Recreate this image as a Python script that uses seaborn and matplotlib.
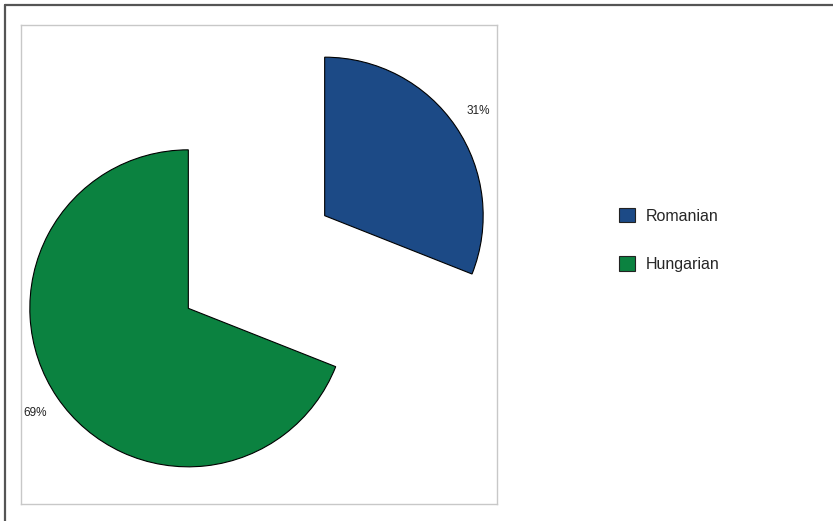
import matplotlib
matplotlib.use("Agg")
import matplotlib.pyplot as plt
from matplotlib.patches import Patch
from matplotlib.lines import Line2D
import seaborn as sns

categories = ["Romanian", "Hungarian"]
values = [31, 69]
colors = ["#1c4a86", "#0b8240"]

sns.set_theme(style="white")
plt.rcParams['font.family'] = ['Liberation Sans', 'DejaVu Sans']

W, H = 833, 521
fig = plt.figure(figsize=(W / 100, H / 100), dpi=100)
fig.patch.set_facecolor("white")

# inner frame in pixels
fl, fr, ft, fb = 21, 497, 25, 504
ax = fig.add_axes([fl / W, 1 - fb / H, (fr - fl) / W, (fb - ft) / H])

wedges, texts, autotexts = ax.pie(
    values, colors=colors, startangle=90, counterclock=False,
    explode=[0.52, 0.52], autopct='%1.0f%%', pctdistance=1.17,
    wedgeprops=dict(edgecolor="black", linewidth=0.8),
    textprops=dict(fontsize=8.5, color="#222222"))

r = 158.5
cx, cy = 256.5, 262.0
ax.set_xlim(-(cx - fl) / r, (fr - cx) / r)
ax.set_ylim(-(fb - cy) / r, (cy - ft) / r)
ax.set_aspect('auto')
ax.set_frame_on(True)
for s in ax.spines.values():
    s.set_visible(True)
    s.set_color("#c8c8c8")
    s.set_linewidth(1.0)
ax.set_xticks([])
ax.set_yticks([])

handles = [Patch(facecolor=c, edgecolor="#222222", linewidth=0.8) for c in colors]
fig.legend(handles, categories, loc='upper left',
           bbox_to_anchor=(619 / W, 1 - 208 / H), frameon=False,
           fontsize=11.5, handlelength=1.0, handleheight=1.0,
           handletextpad=0.65, labelspacing=2.05, borderpad=0, borderaxespad=0)

# outer border (top and left only)
fig.add_artist(Line2D([4.5 / W, 1], [1 - 4.5 / H, 1 - 4.5 / H], color="#555555", linewidth=1.6, transform=fig.transFigure))
fig.add_artist(Line2D([4.5 / W, 4.5 / W], [0, 1 - 4.5 / H], color="#555555", linewidth=1.6, transform=fig.transFigure))

fig.savefig("out.png", dpi=100)
